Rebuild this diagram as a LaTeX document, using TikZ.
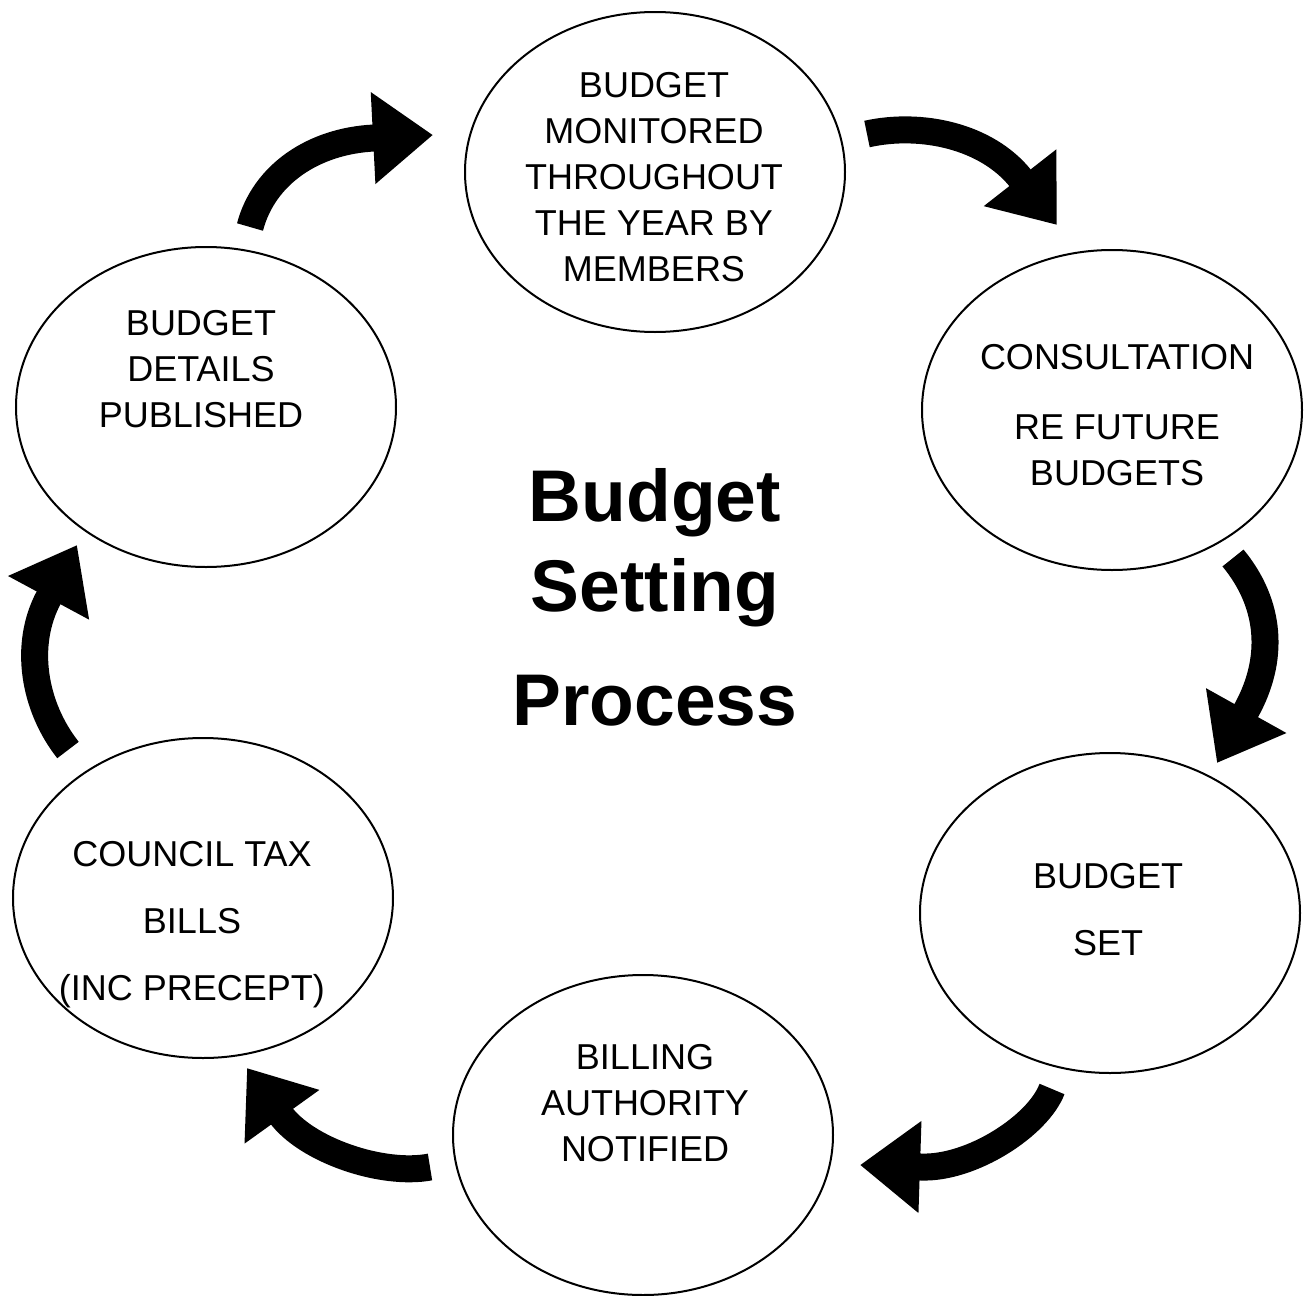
\documentclass[tikz,border=0pt]{standalone}
\usepackage{fontspec}
\setmainfont{Liberation Sans}
\usetikzlibrary{arrows.meta, shapes.geometric, calc}

\begin{document}
\begin{tikzpicture}[
    x=0.5pt, y=-0.5pt,
    bubble/.style={ellipse, draw, line width=1pt, minimum width=190pt, minimum height=160pt, inner sep=0pt},
    caps/.style={align=center, font=\fontsize{18}{23}\selectfont},
    capswide/.style={align=center, font=\fontsize{18}{33.5}\selectfont},
    heading/.style={align=center, font=\fontsize{36.6}{45}\selectfont\bfseries},
    cyclearrow/.style={line width=13.5pt, -{Triangle[length=30pt, width=44pt]}}
]
    % Page
    \path[fill=white] (0,0) rectangle (1308,1293);

    % Stages of the cycle
    \node[bubble] (mon) at (655,172) {};
    \node[bubble] (cons) at (1112,410) {};
    \node[bubble] (set) at (1110,913) {};
    \node[bubble] (bill) at (643,1135) {};
    \node[bubble] (tax) at (203,898) {};
    \node[bubble] (pub) at (206,407) {};

    % Stage texts
    \node[caps] (mon-t) at (654,177) {BUDGET\\MONITORED\\THROUGHOUT\\THE YEAR BY\\MEMBERS};
    \node[caps] (cons-t) at (1117,415) {CONSULTATION\\[12pt]RE FUTURE\\BUDGETS};
    \node[capswide] (set-t) at (1108,910) {BUDGET\\SET};
    \node[caps] (bill-t) at (645,1103) {BILLING\\AUTHORITY\\NOTIFIED};
    \node[capswide] (tax-t) at (192,925) {COUNCIL TAX\\BILLS\\(INC PRECEPT)};
    \node[caps] (pub-t) at (201,369) {BUDGET\\DETAILS\\PUBLISHED};

    % Title
    \node[heading] (title) at (655,597) {Budget\\Setting\\[12pt]Process};

    % Arrow ends: start, head base, tip
    \coordinate (a1s) at (250,227); \coordinate (a1b) at (374,138); \coordinate (a1t) at (433,135);
    \coordinate (a2s) at (867,134); \coordinate (a2b) at (1021,179); \coordinate (a2t) at (1057,225);
    \coordinate (a3s) at (1233,558); \coordinate (a3b) at (1246,711); \coordinate (a3t) at (1217,763);
    \coordinate (a4s) at (1052,1089); \coordinate (a4b) at (921,1167); \coordinate (a4t) at (860,1165);
    \coordinate (a5s) at (430,1167); \coordinate (a5b) at (280,1114); \coordinate (a5t) at (247,1068);
    \coordinate (a6s) at (68,750); \coordinate (a6b) at (49,597); \coordinate (a6t) at (77,545);

    % Arrows
    \draw[cyclearrow] (a1s) .. controls (264,174) and (314,141) .. (a1b) -- (a1t);
    \draw[cyclearrow] (a2s) .. controls (921,122) and (987,136) .. (a2b) -- (a2t);
    \draw[cyclearrow] (a3s) .. controls (1271,604) and (1275,659) .. (a3b) -- (a3t);
    \draw[cyclearrow] (a4s) .. controls (1038,1126) and (971,1169) .. (a4b) -- (a4t);
    \draw[cyclearrow] (a5s) .. controls (382,1176) and (306,1150) .. (a5b) -- (a5t);
    \draw[cyclearrow] (a6s) .. controls (34,707) and (23,645) .. (a6b) -- (a6t);

\end{tikzpicture}
\end{document}
